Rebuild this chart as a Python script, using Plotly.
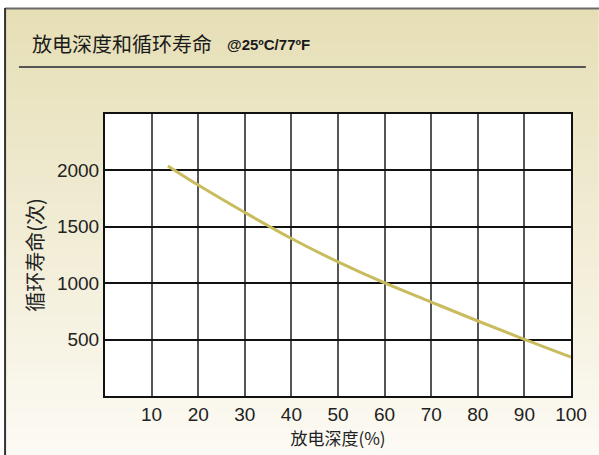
import plotly.graph_objects as go

# depth of discharge (%) vs cycle life
dod = [13.5, 20, 30, 40, 50, 60, 70, 80, 90, 100]
cycles = [2040, 1870, 1627, 1396, 1189, 1002, 833, 665, 502, 345]

x_ticks = [10, 20, 30, 40, 50, 60, 70, 80, 90, 100]
y_ticks = [500, 1000, 1500, 2000]

W, H = 599, 455
ML, MR, MT, MB = 105, 23, 114, 59
top_col = (230, 223, 182)
bot_col = (252, 250, 244)


def px(xp):
    return (xp - ML) / (W - ML - MR)


def py(yp):
    return (H - MB - yp) / (H - MT - MB)


fig = go.Figure()
fig.add_trace(go.Scatter(x=dod, y=cycles, mode="lines",
                         line=dict(color="#C9BC5E", width=3),
                         line_shape="spline", showlegend=False, hoverinfo="skip"))

shapes = []
# beige-to-white gradient background, from the frame top line down
n = 64
y_start, y_end = 9, H
for i in range(n):
    t = i / (n - 1)
    c = tuple(round(top_col[k] + (bot_col[k] - top_col[k]) * t) for k in range(3))
    a = y_start + (y_end - y_start) * i / n
    b = y_start + (y_end - y_start) * (i + 1) / n + 1
    shapes.append(dict(type="rect", xref="paper", yref="paper", layer="below",
                       x0=px(4), x1=px(W + 5), y0=py(b), y1=py(a),
                       fillcolor="rgb(%d,%d,%d)" % c, line=dict(width=0)))
shapes.append(dict(type="rect", xref="x domain", yref="y domain", layer="below",
                   x0=0, x1=1, y0=0, y1=1, fillcolor="white", line=dict(width=0)))

# outer frame lines and title rule
shapes.append(dict(type="line", xref="paper", yref="paper", x0=px(4), x1=px(W + 10),
                   y0=py(8.5), y1=py(8.5), line=dict(color="#6a6a6a", width=2)))
shapes.append(dict(type="line", xref="paper", yref="paper", x0=px(4), x1=px(4),
                   y0=py(8), y1=py(H + 10), line=dict(color="#333333", width=2)))
shapes.append(dict(type="line", xref="paper", yref="paper", x0=px(18), x1=px(591),
                   y0=py(67), y1=py(67), line=dict(color="#555555", width=2)))

fig.update_layout(
    width=W, height=H,
    margin=dict(l=ML, r=MR, t=MT, b=MB),
    paper_bgcolor="#ffffff", plot_bgcolor="white",
    shapes=shapes,
    font=dict(family="Liberation Sans, Arial, sans-serif", color="#222222"),
    annotations=[
        dict(xref="paper", yref="paper", x=px(29), y=py(43), xanchor="left", yanchor="middle",
             text="放电深度和循环寿命", showarrow=False,
             font=dict(family="Noto Sans CJK SC", size=20, color="#1a1a1a")),
        dict(xref="paper", yref="paper", x=px(226), y=py(44), xanchor="left", yanchor="middle",
             text="<b>@25ºC/77ºF</b>", showarrow=False,
             font=dict(family="Liberation Sans Narrow, Arial Narrow, Liberation Sans", size=15,
                       color="#1a1a1a")),
    ],
)
fig.update_xaxes(range=[0, 100], tickvals=x_ticks, showgrid=True, gridcolor="#555555",
                 gridwidth=1.5, zeroline=False, showline=True, mirror=True,
                 linecolor="#111111", linewidth=2, ticks="", tickfont=dict(size=19),
                 title=dict(text="放电深度(%)", standoff=4,
                            font=dict(family="Noto Sans CJK SC", size=17)))
fig.update_yaxes(range=[0, 2500], tickvals=y_ticks, showgrid=True, gridcolor="#111111",
                 gridwidth=1.5, zeroline=False, showline=True, mirror=True,
                 linecolor="#111111", linewidth=2, ticks="", tickfont=dict(size=19),
                 title=dict(text="循环寿命(次)", standoff=8,
                            font=dict(family="Noto Sans CJK SC", size=20)))

fig.write_html("out.html", config={"displayModeBar": False},
               post_script="document.body.style.margin='0';")
